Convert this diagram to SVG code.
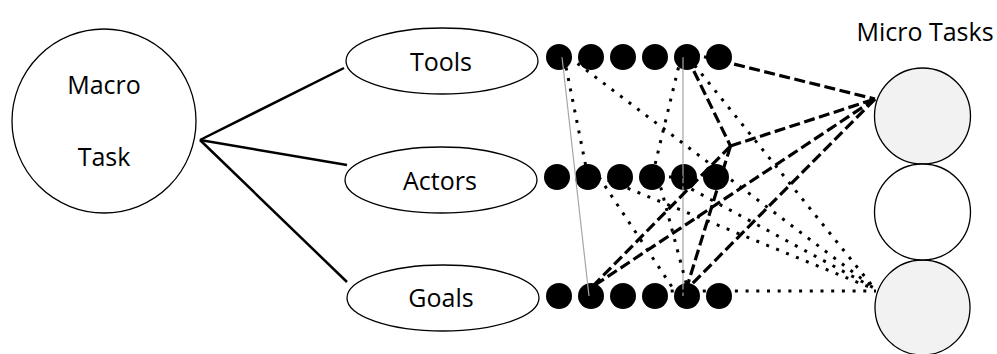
<svg xmlns="http://www.w3.org/2000/svg" width="997" height="354" viewBox="0 0 997 354">
<style>
  .shape { fill: #ffffff; stroke: #000000; stroke-width: 1.3; }
  .grey { fill: #f2f2f2; }
  .dot { fill: #000000; }
  .label { font-family: "Open Sans", "Liberation Sans", sans-serif; font-size: 25px; fill: #000000; text-anchor: middle; }
  .solid { stroke: #000000; stroke-width: 2.5; fill: none; }
  .thin { stroke: #a6a6a6; stroke-width: 1.2; fill: none; }
  .dash { stroke: #000000; stroke-width: 3.2; stroke-dasharray: 11 4.5; fill: none; }
  .dotted { stroke: #000000; stroke-width: 3; stroke-dasharray: 3 7.7; fill: none; }
</style>
<rect x="0" y="0" width="997" height="354" fill="#ffffff"/>

<g id="macro-task">
  <circle class="shape" cx="104" cy="121" r="92"/>
  <text class="label" x="104" y="94">Macro</text>
  <text class="label" x="104" y="166">Task</text>
</g>

<g id="tools">
  <ellipse class="shape" cx="442" cy="61" rx="96" ry="33"/>
  <text class="label" x="441" y="71">Tools</text>
</g>
<g id="actors">
  <ellipse class="shape" cx="441" cy="180" rx="96" ry="33"/>
  <text class="label" x="440" y="190">Actors</text>
</g>
<g id="goals">
  <ellipse class="shape" cx="443" cy="298" rx="96" ry="33"/>
  <text class="label" x="441" y="307">Goals</text>
</g>

<g id="tool-dots">
  <circle class="dot" cx="559" cy="57" r="13"/>
  <circle class="dot" cx="591" cy="57" r="13"/>
  <circle class="dot" cx="623" cy="57" r="13"/>
  <circle class="dot" cx="655" cy="57" r="13"/>
  <circle class="dot" cx="687" cy="57" r="13"/>
  <circle class="dot" cx="719" cy="57" r="13"/>
</g>
<g id="actor-dots">
  <circle class="dot" cx="557" cy="177" r="13"/>
  <circle class="dot" cx="588" cy="177" r="13"/>
  <circle class="dot" cx="620" cy="177" r="13"/>
  <circle class="dot" cx="652" cy="177" r="13"/>
  <circle class="dot" cx="684" cy="177" r="13"/>
  <circle class="dot" cx="716" cy="177" r="13"/>
</g>
<g id="goal-dots">
  <circle class="dot" cx="559" cy="296" r="13"/>
  <circle class="dot" cx="591" cy="296" r="13"/>
  <circle class="dot" cx="623" cy="296" r="13"/>
  <circle class="dot" cx="655" cy="296" r="13"/>
  <circle class="dot" cx="687" cy="296" r="13"/>
  <circle class="dot" cx="719" cy="296" r="13"/>
</g>

<g id="micro-tasks">
  <text class="label" x="925" y="41">Micro Tasks</text>
  <circle id="micro-1" class="shape grey" cx="922.5" cy="116" r="48"/>
  <circle id="micro-3" class="shape grey" cx="922.5" cy="307.5" r="47.5"/>
  <circle id="micro-2" class="shape" cx="922.5" cy="212" r="48"/>
</g>

<g id="connectors">
  <line class="solid" x1="200" y1="140" x2="344" y2="68"/>
  <line class="solid" x1="200" y1="140" x2="347" y2="165"/>
  <line class="solid" x1="200" y1="140" x2="347" y2="282"/>

  <line class="thin" x1="562" y1="57" x2="589" y2="296"/>
  <line class="thin" x1="683" y1="57" x2="683" y2="296"/>

  <line class="dotted" x1="564" y1="57" x2="588" y2="177"/>
  <line class="dotted" x1="569" y1="57" x2="874" y2="288"/>
  <line class="dotted" x1="599" y1="177" x2="678" y2="296"/>
  <line class="dotted" x1="681" y1="57" x2="652" y2="177"/>
  <line class="dotted" x1="588" y1="172" x2="874" y2="289"/>
  <line class="dotted" x1="658" y1="177" x2="688" y2="290"/>
  <line class="dotted" x1="682" y1="184" x2="874" y2="288"/>
  <line class="dotted" x1="688" y1="57" x2="874" y2="288"/>
  <line class="dotted" x1="660" y1="291" x2="876" y2="291"/>
  <line class="dotted" x1="658.3" y1="177" x2="684" y2="177"/>

  <line class="dash" x1="689" y1="53" x2="875" y2="99"/>
  <line class="dash" x1="687" y1="57" x2="730.5" y2="146"/>
  <line class="dash" x1="730.5" y1="146" x2="875" y2="99"/>
  <line class="dash" x1="730.5" y1="146" x2="686" y2="290"/>
  <line class="dash" x1="730.5" y1="146" x2="592" y2="287"/>
  <line class="dash" x1="875" y1="99" x2="592" y2="287"/>
  <line class="dash" x1="875" y1="99" x2="686" y2="290"/>
</g>
</svg>
